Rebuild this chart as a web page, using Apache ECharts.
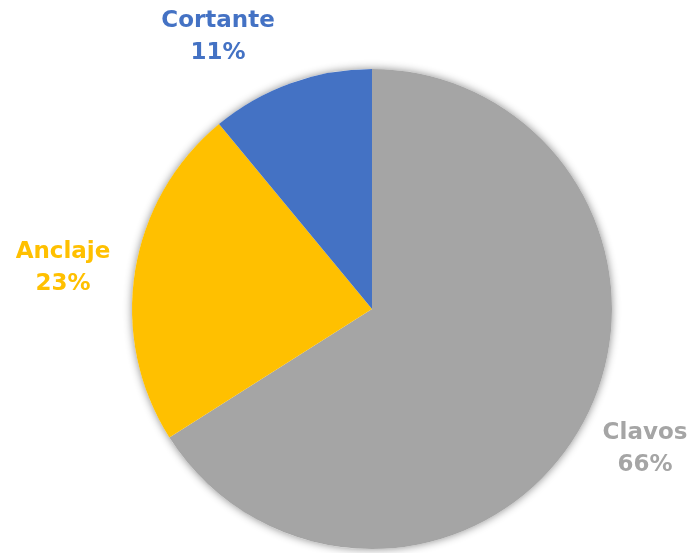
<!DOCTYPE html>
<html>
<head>
<meta charset="utf-8">
<style>
  html, body { margin: 0; padding: 0; background: #ffffff; }
  #chart { width: 693px; height: 553px; }
</style>
<script src="https://cdn.jsdelivr.net/npm/echarts@6/dist/echarts.min.js"></script>
</head>
<body>
<div id="chart"></div>
<script>
// Share of failure modes
const categories = ['Clavos', 'Anclaje', 'Cortante'];
const shares = [66, 23, 11];
const colors = ['#A5A5A5', '#FFC000', '#4472C4'];

// Where each label sits (centre of the text block)
const labelSpots = {
  Clavos: [645, 449],
  Anclaje: [63, 268],
  Cortante: [218, 37]
};

const chart = echarts.init(document.getElementById('chart'));
const center = [372, 309];
const radius = 240;

chart.setOption({
  animation: false,
  series: [
    {
      // soft shadow behind the whole disc
      type: 'pie',
      silent: true,
      center: center,
      radius: radius,
      label: { show: false },
      labelLine: { show: false },
      itemStyle: {
        color: '#ffffff',
        shadowBlur: 9,
        shadowColor: 'rgba(0,0,0,0.45)'
      },
      data: [{ name: '', value: shares.reduce((a, b) => a + b, 0) }]
    },
    {
      type: 'pie',
      center: center,
      radius: radius,
      startAngle: 90,
      clockwise: true,
      itemStyle: { borderWidth: 0 },
      label: {
        show: true,
        position: 'outside',
        formatter: '{b}\n{d}%',
        fontFamily: 'DejaVu Sans',
        fontWeight: 'bold',
        fontSize: 23,
        lineHeight: 32,
        align: 'center',
        overflow: 'none',
        width: 200
      },
      labelLine: { show: false },
      labelLayout: function (params) {
        const name = categories[params.dataIndex];
        const p = labelSpots[name];
        return { x: p[0], y: p[1], align: 'center', verticalAlign: 'middle' };
      },
      data: categories.map((name, i) => ({
        name: name,
        value: shares[i],
        itemStyle: { color: colors[i] },
        label: { color: colors[i] }
      }))
    }
  ]
});
</script>
</body>
</html>
